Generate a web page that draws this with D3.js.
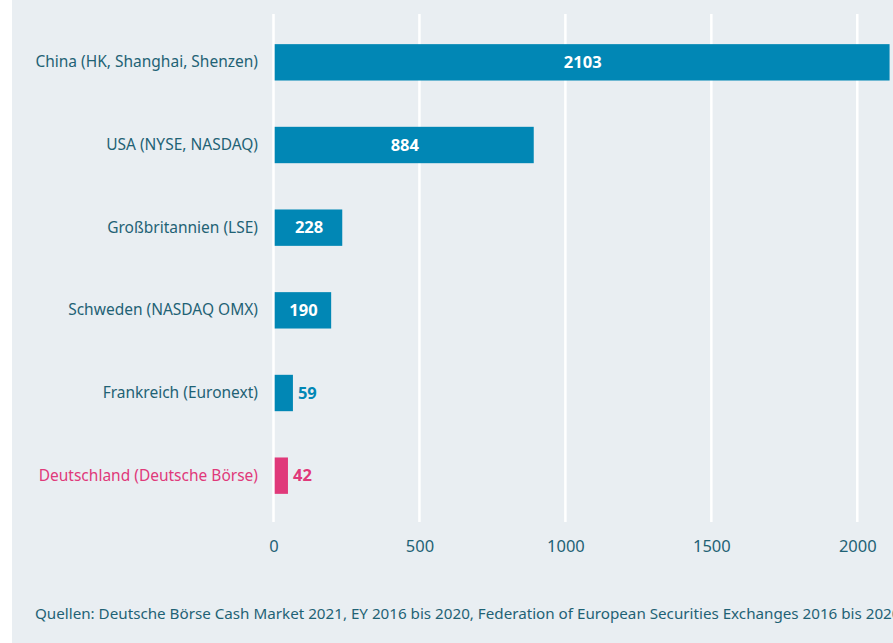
<!DOCTYPE html>
<html>
<head>
<meta charset="utf-8">
<script src="https://cdn.jsdelivr.net/npm/d3@7"></script>
<style>
  body { margin: 0; background: #fff; }
  text { font-family: 'Noto Sans', sans-serif; }
</style>
</head>
<body>
<svg width="893" height="643"></svg>
<script>
/* horizontal bar chart: Börsengänge nach Börsenplatz */

// DATA ////////////////////////////////////////////////////////////////////////
const categories = [
  'China (HK, Shanghai, Shenzen)',
  'USA (NYSE, NASDAQ)',
  'Großbritannien (LSE)',
  'Schweden (NASDAQ OMX)',
  'Frankreich (Euronext)',
  'Deutschland (Deutsche Börse)'
];
const values = [2103, 884, 228, 190, 59, 42];
const highlight = 'Deutschland (Deutsche Börse)';
const xTicks = [0, 500, 1000, 1500, 2000];
const source =
  'Quellen: Deutsche Börse Cash Market 2021, EY 2016 bis 2020, Federation of European Securities Exchanges 2016 bis 2020';

// SET PARAMETERS //////////////////////////////////////////////////////////////
const svg = d3.select('svg');
const blue = '#0187b5';
const pink = '#e0397a';
const textCol = '#1f6275';

const data = categories.map((c, i) => ({ name: c, value: values[i] }));

const x = d3.scaleLinear().domain([0, 2000]).range([273.5, 857.3]);
const y = d3
  .scaleBand()
  .domain(categories)
  .range([21, 517])
  .paddingInner(0.56)
  .paddingOuter(0.28);

// background panel
svg
  .append('rect')
  .attr('x', 12)
  .attr('y', 0)
  .attr('width', 881)
  .attr('height', 643)
  .attr('fill', '#e9eef2');

// DRAW ///////////////////////////////////////////////////////////////////////
// grid
svg
  .append('g')
  .selectAll('line')
  .data(xTicks)
  .enter()
  .append('line')
  .attr('x1', d => x(d))
  .attr('x2', d => x(d))
  .attr('y1', 14)
  .attr('y2', 522)
  .attr('stroke', '#fff')
  .attr('stroke-width', 2.5);

// x axis labels
const xAxis = svg
  .append('g')
  .attr('transform', 'translate(0,546)')
  .call(
    d3
      .axisBottom(x)
      .tickValues(xTicks)
      .tickFormat(d3.format('d'))
      .tickSize(0)
      .tickPadding(0)
  );
xAxis.select('.domain').remove();
xAxis
  .selectAll('text')
  .attr('dy', '0.35em')
  .attr('fill', textCol)
  .style('font-size', '16.5px')
  .style('font-family', "'Noto Sans', sans-serif");

// category labels
const yAxis = svg
  .append('g')
  .attr('transform', 'translate(258,0)')
  .call(d3.axisLeft(y).tickSize(0).tickPadding(0));
yAxis.select('.domain').remove();
yAxis
  .selectAll('text')
  .attr('fill', d => (d === highlight ? pink : textCol))
  .style('font-size', '15.5px')
  .style('font-family', "'Noto Sans', sans-serif");

// bars
svg
  .append('g')
  .selectAll('rect')
  .data(data)
  .enter()
  .append('rect')
  .attr('x', x(0) + 1.2)
  .attr('y', d => y(d.name))
  .attr('width', d => x(d.value) - x(0) + 1)
  .attr('height', y.bandwidth())
  .attr('fill', d => (d.name === highlight ? pink : blue));

// value labels (inside if the bar is wide enough)
svg
  .append('g')
  .selectAll('text')
  .data(data)
  .enter()
  .append('text')
  .attr('x', d => {
    const w = x(d.value) - x(0) + 2.2;
    return w > 40 ? x(0) + 1.2 + w / 2 : x(0) + w + 5;
  })
  .attr('y', d => y(d.name) + y.bandwidth() / 2)
  .attr('dy', '0.35em')
  .attr('text-anchor', d => (x(d.value) - x(0) > 40 ? 'middle' : 'start'))
  .attr('fill', d => {
    if (x(d.value) - x(0) > 40) return '#fff';
    return d.name === highlight ? pink : blue;
  })
  .style('font-size', '16.5px')
  .style('font-weight', 'bold')
  .text(d => d.value);

// source
svg
  .append('text')
  .attr('x', 35)
  .attr('y', 614)
  .attr('dy', '0.35em')
  .attr('fill', textCol)
  .style('font-size', '15.2px')
  .text(source);
</script>
</body>
</html>
